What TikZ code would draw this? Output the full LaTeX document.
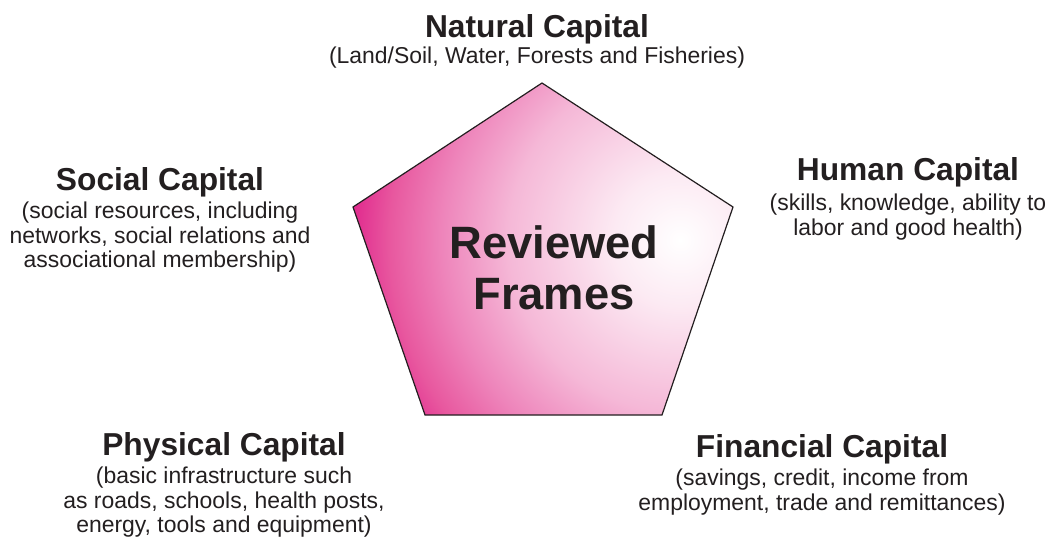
\documentclass[tikz,border=0pt]{standalone}
\usepackage{fontspec}
\setmainfont{Liberation Sans}
\definecolor{inkgray}{HTML}{231F20}
\definecolor{glowa}{HTML}{FCEAF3}
\definecolor{glowb}{HTML}{F5B8D7}
\definecolor{glowc}{HTML}{EE85BB}
\definecolor{glowd}{HTML}{E8589F}
\definecolor{glowe}{HTML}{E0288D}
\pgfdeclareradialshading{frameglow}{\pgfpointorigin}{color(0bp)=(white); color(5bp)=(glowa); color(13bp)=(glowb); color(18bp)=(glowc); color(22bp)=(glowd); color(25bp)=(glowe); color(50bp)=(glowe)}
\tikzset{
	capname/.style={anchor=base, inner sep=0pt, text=inkgray, font=\bfseries\fontsize{23.8}{28}\selectfont},
	capinfo/.style={anchor=north, inner sep=0pt, align=center, text=inkgray, font=\fontsize{17.2}{18.4}\selectfont}
}
\begin{document}
\begin{tikzpicture}[x=0.75pt, y=-0.75pt]
		\useasboundingbox (0,0) rectangle (1054,543);
		
		\coordinate (T) at (542,83);
		\coordinate (R) at (733,207);
		\coordinate (BR) at (662,415);
		\coordinate (BL) at (425,415);
		\coordinate (L) at (353,207);
		
		\begin{scope}
		\clip (T) -- (R) -- (BR) -- (BL) -- (L) -- cycle;
		\fill[glowe] (353,83) rectangle (733,415);
		\shade[shading=frameglow] (680,240) circle (247.5pt);
		\end{scope}
		\draw[line width=0.9pt, inkgray, line join=miter] (T) -- (R) -- (BR) -- (BL) -- (L) -- cycle;
		
		\node[anchor=north, inner sep=0pt, align=center, text=inkgray, font=\bfseries\fontsize{34}{38.3}\selectfont] (frames) at (554,225) {Reviewed\\Frames};
		
		\node[capname] (natural) at (537,37) {Natural Capital};
		\node[capinfo] (naturalinfo) at (537,47) {(Land/Soil, Water, Forests and Fisheries)};
		
		\node[capname] (social) at (160,190) {Social Capital};
		\node[capinfo] (socialinfo) at (160,201.6) {(social resources, including\\networks, social relations and\\associational membership)};
		
		\node[capname] (human) at (908,180) {Human Capital};
		\node[capinfo] (humaninfo) at (908,193.6) {(skills, knowledge, ability to\\labor and good health)};
		
		\node[capname] (physical) at (224,455) {Physical Capital};
		\node[capinfo] (physicalinfo) at (224,466.6) {(basic infrastructure such\\as roads, schools, health posts,\\energy, tools and equipment)};
		
		\node[capname] (financial) at (822,457) {Financial Capital};
		\node[capinfo] (financialinfo) at (822,468.6) {(savings, credit, income from\\employment, trade and remittances)};
		\end{tikzpicture}
\end{document}
